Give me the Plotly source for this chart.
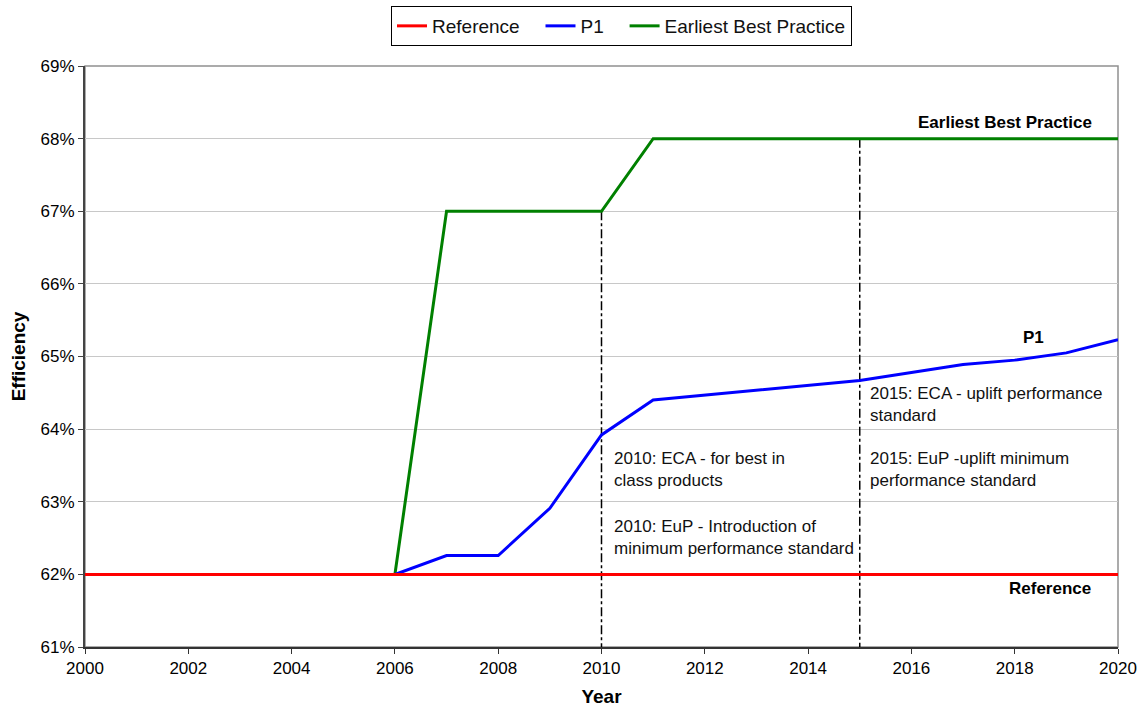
import plotly.graph_objects as go

# Efficiency projections (%) by year
years = list(range(2000, 2021))
reference = [62.0] * 21
p1 = [62.0, 62.0, 62.0, 62.0, 62.0, 62.0, 62.0, 62.26, 62.26, 62.91,
      63.92, 64.40, 64.47, 64.53, 64.60, 64.67, 64.78, 64.89, 64.95, 65.05, 65.23]
best_practice = [62.0, 62.0, 62.0, 62.0, 62.0, 62.0, 62.0, 67.0, 67.0, 67.0,
                 67.0, 68.0, 68.0, 68.0, 68.0, 68.0, 68.0, 68.0, 68.0, 68.0, 68.0]

# Policy milestones
event_years = [2010, 2015]
event_notes = [
    ["2010: ECA - for best in<br>class products",
     "2010: EuP - Introduction of<br>minimum performance standard"],
    ["2015: ECA - uplift performance<br>standard",
     "2015: EuP -uplift minimum<br>performance standard"],
]
event_note_levels = [[63.45, 62.51], [64.34, 63.45]]
event_note_shift = [10, 8]

y_ticks = list(range(61, 70))
x_ticks = list(range(2000, 2021, 2))
y_min, y_max = 61, 69

FONT = "Liberation Sans, Arial, sans-serif"
GAP = "\u00a0" * 3  # extra spacing between legend entries

fig = go.Figure()

# Milestone markers: dash-dot drop lines from the best-practice curve
for ey in event_years:
    top = best_practice[years.index(ey)]
    fig.add_trace(go.Scatter(
        x=[ey, ey], y=[top, y_min], mode="lines",
        line=dict(color="black", width=1.5, dash="dashdot"),
        showlegend=False, hoverinfo="skip"))

# Drawn back to front so the reference line sits on top
fig.add_trace(go.Scatter(x=years, y=best_practice, mode="lines",
                         name="Earliest Best Practice", legendrank=3,
                         line=dict(color="#008000", width=3)))
fig.add_trace(go.Scatter(x=years, y=p1, mode="lines", name="P1" + GAP, legendrank=2,
                         line=dict(color="#0000ff", width=3)))
fig.add_trace(go.Scatter(x=years, y=reference, mode="lines", name="Reference" + GAP,
                         legendrank=1, line=dict(color="#ff0000", width=3)))

annotations = []
for ey, notes, levels, xs in zip(event_years, event_notes, event_note_levels,
                                 event_note_shift):
    for note, lvl in zip(notes, levels):
        annotations.append(dict(
            x=ey, y=lvl, xref="x", yref="y", text=note, showarrow=False,
            xanchor="left", yanchor="middle", align="left", xshift=xs,
            font=dict(family=FONT, size=17, color="#111111")))

# Series end labels
end_labels = [("Earliest Best Practice", best_practice[-1], -24, 16),
              ("P1", p1[-1], -72, 2),
              ("Reference", reference[-1], -25, -14)]
for label, yv, xs, ys in end_labels:
    annotations.append(dict(
        x=years[-1], y=yv, xref="x", yref="y", text=f"<b>{label}</b>",
        showarrow=False, xanchor="right", yanchor="middle", xshift=xs, yshift=ys,
        font=dict(family=FONT, size=17, color="black")))

fig.update_layout(
    width=1143, height=713,
    margin=dict(l=85, r=25, t=66, b=66, autoexpand=False),
    paper_bgcolor="white", plot_bgcolor="white",
    font=dict(family=FONT, size=16, color="black"),
    showlegend=True,
    legend=dict(orientation="h", xref="container", yref="container",
                x=391 / 1143, xanchor="left", y=1 - 6 / 713, yanchor="top",
                bordercolor="black", borderwidth=1, bgcolor="white",
                font=dict(family=FONT, size=19, color="#111111"),
                traceorder="normal"),
    annotations=annotations,
    shapes=[dict(type="rect", xref="paper", yref="paper", x0=0, x1=1, y0=0, y1=1,
                 line=dict(color="#909090", width=1.5), layer="below")],
)

fig.update_xaxes(
    range=[2000, 2020], tickvals=x_ticks, ticktext=[str(t) for t in x_ticks],
    automargin=False,
    showgrid=False, zeroline=False, showline=True, linecolor="#333333", linewidth=2,
    ticks="outside", ticklen=5, tickcolor="#333333",
    tickfont=dict(family=FONT, size=17, color="black"),
    title=dict(text="<b>Year</b>", font=dict(family=FONT, size=19), standoff=12))

fig.update_yaxes(
    range=[y_min, y_max], tickvals=y_ticks, ticktext=[f"{t}%" for t in y_ticks],
    automargin=False,
    showgrid=True, gridcolor="#c8c8c8", gridwidth=1, zeroline=False,
    showline=True, linecolor="#444444", linewidth=2,
    ticks="outside", ticklen=5, tickcolor="#444444",
    tickfont=dict(family=FONT, size=17, color="black"),
    title=dict(text="<b>Efficiency</b>", font=dict(family=FONT, size=19), standoff=10))

fig.write_html("out.html")
